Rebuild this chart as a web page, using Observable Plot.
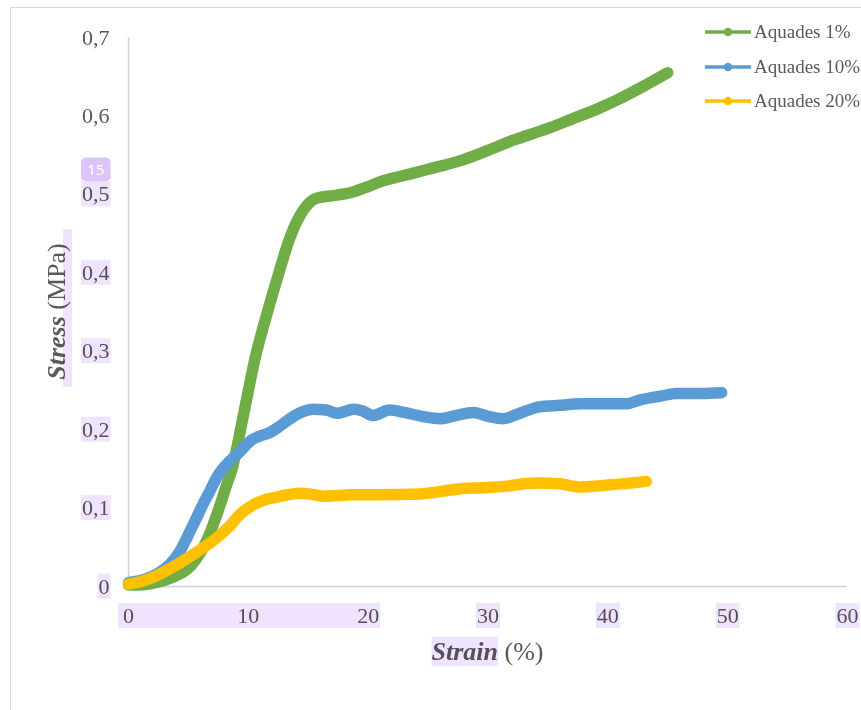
<!DOCTYPE html>
<html>
<head>
<meta charset="utf-8">
<script src="https://cdn.jsdelivr.net/npm/d3@7"></script>
<script src="https://cdn.jsdelivr.net/npm/@observablehq/plot@0.6"></script>
<style>
  html, body { margin: 0; padding: 0; background: #fff; }
  #wrap { position: relative; width: 861px; height: 710px; overflow: hidden; background: #fff; }
  #frame { position: absolute; left: 10px; top: 7px; width: 950px; height: 800px;
           border-top: 1.5px solid #d9d9d9; border-left: 1.5px solid #d9d9d9; }
  #chart { position: absolute; left: 0; top: 0; }
  .leg { position: absolute; left: 705px; height: 24px; display: flex; align-items: center;
         font-family: "Liberation Serif", serif; font-size: 19px; color: #595959; white-space: nowrap; }
  .leg span { margin-left: 3px; }
</style>
</head>
<body>
<div id="wrap"><div id="frame"></div><div id="chart"></div></div>
<script>
// ---- data ----
const seriesNames = ["Aquades 1%", "Aquades 10%", "Aquades 20%"];
const seriesColors = ["#70AD47", "#5B9BD5", "#FFC000"];

const strain1 = [0, 1, 2, 3, 4, 4.9, 5.6, 6.25, 6.8, 7.4, 8.2, 8.64, 9.61, 10.58, 11.56, 12.53, 13.5, 14.6, 15.7, 17.4, 18.5, 20, 21, 23, 25, 27.9, 30, 32.1, 35, 37, 39, 41, 43, 45];
const stress1 = [0.002, 0.002, 0.004, 0.008, 0.014, 0.022, 0.034, 0.05, 0.068, 0.093, 0.13, 0.15, 0.22, 0.292, 0.348, 0.399, 0.446, 0.48, 0.495, 0.499, 0.502, 0.51, 0.516, 0.524, 0.532, 0.544, 0.556, 0.569, 0.584, 0.596, 0.608, 0.622, 0.638, 0.655];

const strain10 = [0, 1.5, 2.5, 3.5, 4.3, 4.9, 5.6, 6.25, 6.8, 7.4, 8.2, 9.3, 10.2, 11, 11.6, 12.4, 13.3, 14.4, 15.4, 16.5, 17.4, 18.8, 19.5, 20.4, 21.8, 23, 24.5, 26, 27.3, 28.75, 30, 31.25, 32.5, 34.3, 36, 37.7, 40.4, 41.5, 42.7, 44.5, 45.7, 47.7, 49.5];
const stress10 = [0.005, 0.01, 0.017, 0.029, 0.045, 0.063, 0.085, 0.106, 0.122, 0.14, 0.156, 0.172, 0.186, 0.192, 0.195, 0.202, 0.212, 0.222, 0.226, 0.225, 0.221, 0.226, 0.224, 0.218, 0.225, 0.222, 0.217, 0.214, 0.218, 0.222, 0.217, 0.214, 0.22, 0.229, 0.231, 0.233, 0.233, 0.233, 0.238, 0.243, 0.246, 0.246, 0.247];

const strain20 = [0, 1, 2.1, 3.25, 4.9, 6, 7.6, 8.5, 9.3, 10.4, 11.3, 12.1, 13.3, 14.3, 15.5, 16.3, 17.5, 18.5, 21, 24.3, 26, 27.9, 29.5, 31.6, 33, 34.3, 36, 37.7, 39, 40.4, 42, 43.2];
const stress20 = [0.003, 0.006, 0.012, 0.021, 0.036, 0.047, 0.065, 0.078, 0.092, 0.104, 0.11, 0.113, 0.117, 0.119, 0.117, 0.115, 0.116, 0.117, 0.117, 0.118, 0.121, 0.125, 0.126, 0.128, 0.131, 0.132, 0.131, 0.127, 0.128, 0.13, 0.132, 0.134];

const xTicks = [0, 10, 20, 30, 40, 50, 60];
const yTicks = [0, 0.1, 0.2, 0.3, 0.4, 0.5, 0.6, 0.7];
const xTitle = ["Strain", " (%)"];
const yTitle = ["Stress", " (MPa)"];
const badgeText = "15";

// ---- build table ----
const pairs = [[strain1, stress1], [strain10, stress10], [strain20, stress20]];
const data = pairs.flatMap(([xs, ys], i) => xs.map((x, j) => ({series: seriesNames[i], strain: x, stress: ys[j]})));

const yFmt = d => d === 0 ? "0" : d.toFixed(1).replace(".", ",");

const plot = Plot.plot({
  width: 861,
  height: 710,
  marginLeft: 128,
  marginRight: 14,
  marginTop: 37,
  marginBottom: 124,
  style: {fontFamily: "'Liberation Serif', serif", fontSize: "22px", color: "#595959", background: "transparent", overflow: "visible"},
  x: {domain: [0, 60]},
  y: {domain: [0, 0.7]},
  color: {domain: seriesNames, range: seriesColors},
  marks: [
    Plot.ruleX([0], {stroke: "#d0d0d0", strokeWidth: 1.5}),
    Plot.ruleY([0], {stroke: "#d0d0d0", strokeWidth: 1.5}),
    Plot.axisX({ticks: xTicks, tickSize: 0, tickPadding: 21, label: null, tickFormat: d => String(d)}),
    Plot.axisY({ticks: yTicks, tickSize: 0, tickPadding: 19, label: null, tickFormat: yFmt}),
    Plot.line(data, {x: "strain", y: "stress", z: "series", stroke: "series", strokeWidth: 11.5,
      strokeLinecap: "round", strokeLinejoin: "round", curve: "monotone-x"})
  ]
});
document.getElementById("chart").appendChild(plot);

const svg = d3.select(plot);
const xs = plot.scale("x"), ys = plot.scale("y");
const xMid = (xs.range[0] + xs.range[1]) / 2;
const yMid = (ys.range[0] + ys.range[1]) / 2;

// axis titles
const xt = svg.append("text").attr("x", xMid).attr("y", ys.range[0] + 74)
  .attr("text-anchor", "middle").attr("font-family", "'Liberation Serif', serif")
  .attr("font-size", 26).attr("fill", "#595959");
const xtA = xt.append("tspan").attr("font-style", "italic").attr("font-weight", "bold").text(xTitle[0]);
xt.append("tspan").text(xTitle[1]);

const yt = svg.append("text").attr("transform", `translate(65,${yMid}) rotate(-90)`)
  .attr("text-anchor", "middle").attr("font-family", "'Liberation Serif', serif")
  .attr("font-size", 26).attr("fill", "#595959");
yt.append("tspan").attr("font-style", "italic").attr("font-weight", "bold").text(yTitle[0]);
yt.append("tspan").text(yTitle[1]);

// highlight overlays (derived from the text boxes)
const svgRect = plot.getBoundingClientRect();
const box = el => { const r = el.getBoundingClientRect(); return {x0: r.left - svgRect.left, y0: r.top - svgRect.top, x1: r.right - svgRect.left, y1: r.bottom - svgRect.top}; };
const hl = svg.append("g").style("mix-blend-mode", "multiply");
const addHl = (b, padX = 1, padY = 0) => hl.append("rect")
  .attr("x", b.x0 - padX).attr("y", b.y0 - padY).attr("width", b.x1 - b.x0 + 2 * padX).attr("height", b.y1 - b.y0 + 2 * padY)
  .attr("fill", "#f0e3fe");

const val = n => +n.textContent.replace(",", ".");
const yLabels = svg.selectAll('g[aria-label="y-axis tick label"] text').nodes();
const xLabels = svg.selectAll('g[aria-label="x-axis tick label"] text').nodes();
let label05 = null;
yLabels.forEach(n => {
  const v = val(n);
  if (v <= 0.5 + 1e-9) addHl(box(n), 1, 0);
  if (Math.abs(v - 0.5) < 1e-9) label05 = box(n);
});
const xb = xLabels.map(n => ({v: val(n), b: box(n)}));
const grp = xb.filter(d => d.v <= 20).map(d => d.b);
if (grp.length) addHl({x0: d3.min(grp, b => b.x0) - 4, y0: d3.min(grp, b => b.y0), x1: d3.max(grp, b => b.x1), y1: d3.max(grp, b => b.y1)}, 1, 0);
xb.filter(d => d.v > 20).forEach(d => addHl(d.b, 1, 0));
addHl(box(xtA.node()), 0, 0);
const ytb = box(yt.node());
addHl({x0: ytb.x1 - 8, y0: ytb.y0 - 14, x1: ytb.x1 + 1, y1: ytb.y1 + 7}, 0, 0);

if (label05) {
  const bw = label05.x1 - label05.x0 + 2;
  const g = svg.append("g");
  g.append("rect").attr("x", label05.x0 - 1).attr("y", label05.y0 - 24).attr("width", bw).attr("height", 24)
    .attr("rx", 5).attr("fill", "#dcc3f8");
  g.append("text").attr("x", label05.x0 - 1 + bw / 2).attr("y", label05.y0 - 12).attr("dy", "0.35em")
    .attr("text-anchor", "middle").attr("font-family", "'Noto Sans', sans-serif").attr("font-size", 15)
    .attr("fill", "#ffffff").text(badgeText);
}

// legend
const wrap = document.getElementById("wrap");
seriesNames.forEach((name, i) => {
  const d = document.createElement("div");
  d.className = "leg";
  d.style.top = (32 + i * 34.5 - 12) + "px";
  d.innerHTML = `<svg width="46" height="12"><line x1="0" y1="6" x2="46" y2="6" stroke="${seriesColors[i]}" stroke-width="3.5"/><circle cx="23" cy="6" r="4.2" fill="${seriesColors[i]}"/></svg><span></span>`;
  d.querySelector("span").textContent = name;
  wrap.appendChild(d);
});
</script>
</body>
</html>
